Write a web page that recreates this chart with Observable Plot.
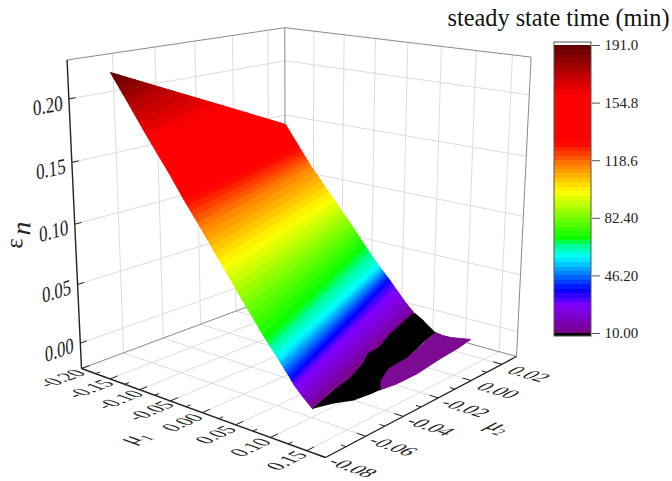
<!DOCTYPE html>
<html><head><meta charset="utf-8">
<script src="https://cdn.jsdelivr.net/npm/d3@7"></script>
<script src="https://cdn.jsdelivr.net/npm/@observablehq/plot@0.6"></script>
<style>html,body{margin:0;background:#fff}#c{position:relative;width:672px;height:481px}#c svg{position:absolute;left:0;top:0}</style>
</head><body><div id="c"></div>
<script>
const mu1Ticks=[-0.20,-0.15,-0.10,-0.05,0,0.05,0.10,0.15];
const mu1Minor=[-0.175,-0.125,-0.075,-0.025,0.025,0.075,0.125];
const mu2Ticks=[-0.08,-0.06,-0.04,-0.02,0,0.02];
const mu2Minor=[-0.07,-0.05,-0.03,-0.01,0.01];
const epsTicks=[0,0.05,0.10,0.15,0.20];
const legendTicks=[10,46.2,82.4,118.6,154.8,191];
const colorTimes=[10,27.6,37,57.8,66,68.4,98.6,115.6,129.4,159.6,191];
const colorHexes=["#7a0086","#8000ff","#0000ff","#00ffff","#00ff80","#00ff00","#ffff00","#ff8000","#ff0000","#ff0000","#5c0000"];
// surface: iso-time rows, from the long edge (mu2 = -0.0612) to the far edge
const rowT=[191,175,160,145,129,115.6,98.6,83,68.4,57.8,37,27.6,20,10];
const leftMu2=-0.0612;
const leftMu1=[-0.2000,-0.1714,-0.1399,-0.1057,-0.0842,-0.0597,-0.0266,0.0062,0.0386,0.0546,0.0734,0.0792,0.0921,0.1049];
const leftEps=[0.2151,0.1928,0.1678,0.1419,0.1244,0.1059,0.0799,0.0543,0.0298,0.0189,0.0054,0.0008,-0.0065,-0.0129];
const rightMu1=[-0.2000,-0.2000,-0.2000,-0.2000,-0.1744,-0.1551,-0.1169,-0.0861,-0.0606,-0.0387,-0.0221,-0.0105,0.0060,0.0207];
const rightMu2=[-0.0612,-0.0393,-0.0043,0.0303,0.03,0.03,0.03,0.03,0.03,0.03,0.03,0.03,0.03,0.03];
const rightEps=[0.2151,0.1974,0.1692,0.1411,0.1221,0.1073,0.0815,0.0609,0.0427,0.0279,0.0181,0.0105,-0.0002,-0.0082];
// low-lying patches of the surface
const patchEps=0.004;
const blackMu1=[0.1410,0.1275,0.1188,0.1024,0.0887,0.0868,0.0695,0.0576,0.0477,0.0506,0.0731,0.0911,0.1087,0.1173,0.1313,0.1348,0.1492,0.1644,0.1645,0.1607,0.1495];
const blackMu2=[-0.0741,-0.0588,-0.0467,-0.0335,-0.0260,-0.0190,-0.0051,0.0070,0.0173,0.0180,0.0137,0.0099,0.0062,-0.0049,-0.0201,-0.0324,-0.0424,-0.0484,-0.0527,-0.0610,-0.0669];
const lobeMu1=[0.1644,0.1492,0.1348,0.1313,0.1087,0.1210,0.1322,0.1432,0.1541,0.1590,0.1619,0.1683,0.1685];
const lobeMu2=[-0.0484,-0.0424,-0.0324,-0.0201,0.0062,0.0053,0.0054,0.0069,0.0084,-0.0020,-0.0136,-0.0297,-0.0409];
const underMu1=[0.1410,0.0496,0.0731,0.1644];
const underMu2=[-0.0741,0.0178,0.0137,-0.0484];

const mMin=-0.20,mMax=0.175,nMin=-0.08,nMax=0.03,eMin=-0.022,eMax=0.23;
const O=[325,457],A=[81,368],C=[516,356],T=[327.5,101],wu=1.164,wv=1.2,wt=0.926;
const cx=[wu*A[0]-O[0],wv*C[0]-O[0],wt*T[0]-O[0]],cy=[wu*A[1]-O[1],wv*C[1]-O[1],wt*T[1]-O[1]],dw=[wu-1,wv-1,wt-1];
function proj(p){const q=[(mMax-p[0])/(mMax-mMin),(p[1]-nMin)/(nMax-nMin),(p[2]-eMin)/(eMax-eMin)];const w=1+dw[0]*q[0]+dw[1]*q[1]+dw[2]*q[2];
 return [(O[0]+cx[0]*q[0]+cx[1]*q[1]+cx[2]*q[2])/w,(O[1]+cy[0]*q[0]+cy[1]*q[1]+cy[2]*q[2])/w];}
const L3=leftMu1.map((m,i)=>[m,leftMu2,leftEps[i]]);
const R3=rightMu1.map((m,i)=>[m,rightMu2[i],rightEps[i]]);
const flatPatch=(a,b)=>a.map((m,i)=>[m,b[i],patchEps]);
const black3=flatPatch(blackMu1,blackMu2),lobe3=flatPatch(lobeMu1,lobeMu2),under3=flatPatch(underMu1,underMu2);

const nLevels=65,step=181/nLevels,levels=d3.range(nLevels).map(i=>10+i*step);
function at(arr,t){let i=0;while(i<rowT.length-2&&t<rowT[i+1])i++;const f=(t-rowT[i])/(rowT[i+1]-rowT[i]);return arr[i].map((v,j)=>v+f*(arr[i+1][j]-v));}
const bandPts=[];
levels.forEach((t0,k)=>{const t1=t0+step;const mid=rowT.map((t,i)=>[t,i]).filter(d=>d[0]>t0&&d[0]<t1).sort((a,b)=>a[0]-b[0]);
 const ring=[at(L3,t0),...mid.map(d=>L3[d[1]]),at(L3,t1),at(R3,t1),...mid.slice().reverse().map(d=>R3[d[1]]),at(R3,t0)];
 ring.forEach(p=>bandPts.push({k,t:t0+step/2,p}));});

const seg=(p,q)=>({p,q});
const gridSegs=[
 ...epsTicks.map(e=>seg([mMin,nMin,e],[mMin,nMax,e])),
 ...epsTicks.map(e=>seg([mMin,nMax,e],[mMax,nMax,e])),
 ...mu2Ticks.slice(1).map(n=>seg([mMin,n,eMin],[mMin,n,eMax])),
 ...mu1Ticks.slice(1).map(m=>seg([m,nMax,eMin],[m,nMax,eMax])),
 ...mu1Ticks.slice(1).map(m=>seg([m,nMin,eMin],[m,nMax,eMin])),
 ...mu2Ticks.slice(1).map(n=>seg([mMin,n,eMin],[mMax,n,eMin]))];
const softEdges=[seg([mMin,nMin,eMax],[mMin,nMax,eMax]),seg([mMin,nMax,eMax],[mMax,nMax,eMax]),seg([mMax,nMax,eMin],[mMax,nMax,eMax]),seg([mMin,nMax,eMin],[mMin,nMax,eMax]),seg([mMin,nMin,eMin],[mMin,nMax,eMin]),seg([mMin,nMax,eMin],[mMax,nMax,eMin])];
const axes=[seg([mMin,nMin,eMin],[mMin,nMin,eMax]),seg([mMin,nMin,eMin],[mMax,nMin,eMin]),seg([mMax,nMin,eMin],[mMax,nMax,eMin])];
const ticks=[...mu1Ticks.map(m=>seg([m,nMin,eMin],[m,nMin+0.0035,eMin])),...mu1Minor.map(m=>seg([m,nMin,eMin],[m,nMin+0.002,eMin])),
 ...mu2Ticks.map(n=>seg([mMax,n,eMin],[mMax-0.012,n,eMin])),...mu2Minor.map(n=>seg([mMax,n,eMin],[mMax-0.007,n,eMin])),
 ...epsTicks.map(e=>seg([mMin,nMin,e],[mMin,nMin+0.003,e]))];
const link=(d,o)=>Plot.link(d,{x1:s=>proj(s.p)[0],y1:s=>proj(s.p)[1],x2:s=>proj(s.q)[0],y2:s=>proj(s.q)[1],...o});
const patch=(d,o)=>Plot.line(d,{x:p=>proj(p)[0],y:p=>proj(p)[1],curve:"linear-closed",...o});
const fmt=d=>d3.format(".2f")(d).replace("−","-");
const F="'Liberation Serif'";
const main=Plot.plot({width:672,height:481,margin:0,style:{fontFamily:F,background:"transparent"},
 x:{domain:[0,672],range:[0,672],axis:null},y:{domain:[0,481],range:[0,481],axis:null},
 color:{type:"linear",domain:colorTimes,range:colorHexes},
 marks:[
  link(gridSegs,{stroke:"#dcdcdc",strokeWidth:1}),
  link(softEdges,{stroke:"#8a8a8a",strokeWidth:1}),
  link(axes,{stroke:"#222",strokeWidth:1.4}),
  link(ticks,{stroke:"#222",strokeWidth:1}),
  Plot.line(bandPts,{x:d=>proj(d.p)[0],y:d=>proj(d.p)[1],z:"k",fill:"t",stroke:"t",strokeWidth:1,strokeLinejoin:"round",curve:"linear-closed"}),
  patch(under3,{fill:"#7a0086",stroke:"#7a0086",strokeWidth:0.5}),
  patch(lobe3,{fill:"#7c0a92",stroke:"#7c0a92",strokeWidth:1}),
  patch(black3,{fill:"#000"}),
  Plot.text(mu1Ticks,{x:m=>proj([m,nMin,eMin])[0],y:m=>proj([m,nMin,eMin])[1],dx:-20,dy:10,text:fmt,fontSize:17,fill:"#222"}),
  Plot.text(mu2Ticks,{x:n=>proj([mMax,n,eMin])[0],y:n=>proj([mMax,n,eMin])[1],dx:27,dy:10,text:fmt,fontSize:17,fill:"#222"}),
  Plot.text(epsTicks,{x:e=>proj([mMin,nMin,e])[0],y:e=>proj([mMin,nMin,e])[1],dx:-21,dy:7,text:fmt,fontSize:17,fill:"#222"}),
  Plot.text(["ε"],{x:()=>14,y:()=>243,rotate:-88,text:d=>d,fontSize:24,fill:"#222"}),
  Plot.text(["n"],{x:()=>21,y:()=>228,rotate:-88,text:d=>d,fontSize:27,fontStyle:"italic",fill:"#222"}),
  Plot.text(["μ₁"],{x:()=>133,y:()=>437,text:d=>d,fontSize:20,fill:"#222"}),
  Plot.text(["μ₂"],{x:()=>500,y:()=>426,text:d=>d,fontSize:20,fill:"#222"}),
  Plot.text(["steady state time (min)"],{x:()=>669,y:()=>18,textAnchor:"end",text:d=>d,fontSize:24.3,fill:"#111"})
 ]});
function unit(a,b){const d=[b[0]-a[0],b[1]-a[1]],n=Math.hypot(d[0],d[1]);return [d[0]/n,d[1]/n];}
const textGroups=main.querySelectorAll('g[aria-label="text"]');
function flat(g,pts,base,up,sx,sy){
 d3.select(textGroups[g]).selectAll("text").each(function(_,i){
  const p=pts[i],q=proj(p),e=unit(q,proj([p[0]+base[0],p[1]+base[1],p[2]+base[2]])),f=unit(q,proj([p[0]+up[0],p[1]+up[1],p[2]+up[2]]));
  const s=d3.select(this);s.attr("transform",s.attr("transform")+` matrix(${e[0]*sx} ${e[1]*sx} ${-f[0]*sy} ${-f[1]*sy} 0 0)`);});}
flat(0,mu1Ticks.map(m=>[m,nMin,eMin]),[0,0.005,0],[-0.01,0,0],1.15,1.3);
flat(1,mu2Ticks.map(n=>[mMax,n,eMin]),[0.01,0,0],[0,0.005,0],1.22,1.25);
flat(2,epsTicks.map(e=>[mMin,nMin,e]),[0,0.005,0],[0,0,0.01],1.02,1.3);
flat(5,[[0.05,nMin,eMin]],[0,0.005,0],[-0.01,0,0],1.2,1.3);
flat(6,[[mMax,0,eMin]],[0.01,0,0],[0,0.005,0],1.2,1.3);
const bar=Plot.plot({width:672,height:481,marginLeft:554,marginRight:81,marginTop:42,marginBottom:145,style:{fontFamily:F,background:"transparent"},
 x:{domain:[0,1],axis:null},y:{domain:[8.1,192.9],axis:null},
 color:{type:"linear",domain:colorTimes,range:colorHexes},
 marks:[
  Plot.rect(levels,{x1:()=>0,x2:()=>1,y1:d=>d,y2:d=>d+step,fill:d=>d+step/2,shapeRendering:"crispEdges"}),
  Plot.rect([0],{x1:()=>0,x2:()=>1,y1:()=>8.1,y2:()=>10,fill:"#000",shapeRendering:"crispEdges"}),
  Plot.rect([0],{x1:()=>0,x2:()=>1,y1:()=>8.1,y2:()=>192.9,stroke:"#555",strokeWidth:1,fill:"none"}),
  Plot.axisY(legendTicks,{anchor:"right",tickSize:8,tickPadding:5,fontSize:15,stroke:"#555",color:"#222",fill:"#222",tickFormat:d=>d>=100?d.toFixed(1):d.toFixed(2),label:null})
 ]});
document.getElementById("c").append(main,bar);
</script></body></html>
